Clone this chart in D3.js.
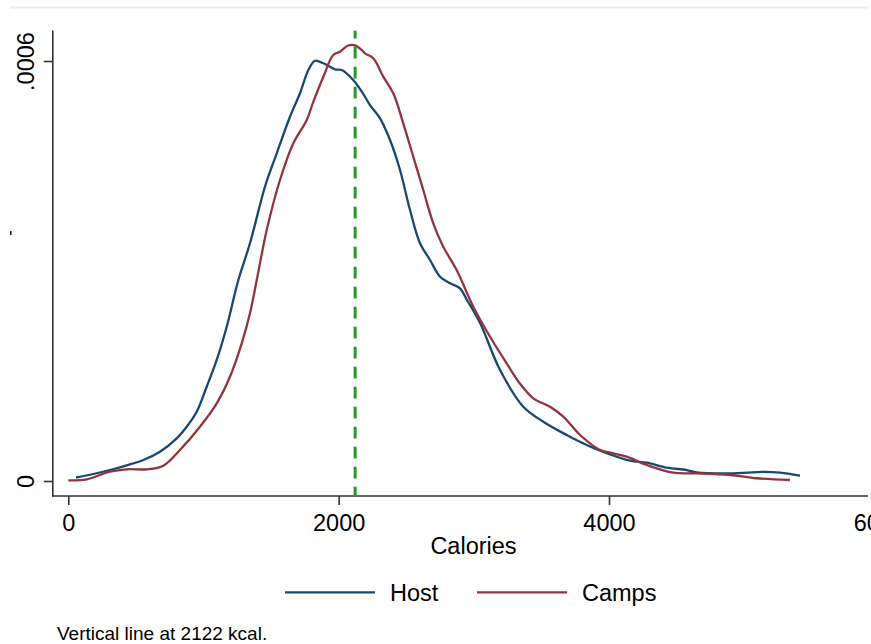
<!DOCTYPE html>
<html><head><meta charset="utf-8">
<script src="https://cdn.jsdelivr.net/npm/d3@7"></script>
<style>
html,body{margin:0;padding:0;background:#fff;}
svg{display:block;font-family:"Liberation Sans",Arial,sans-serif;}
</style></head>
<body>
<svg id="chart" width="871" height="644"></svg>
<script>
// ---- data ----
const hostX = [57,185,308,432,555,678,802,876,950,1024,1098,1172,1258,1344,1455,1542,1640,1714,1776,1825,1887,1973,2023,2108,2171,2232,2306,2380,2454,2528,2602,2676,2750,2824,2898,2949,3047,3194,3366,3514,3687,3835,3983,4155,4279,4427,4575,4649,4895,5142,5265,5413];
const hostY = [0.050,0.100,0.157,0.224,0.300,0.419,0.610,0.776,0.990,1.347,1.729,2.204,2.871,3.396,4.204,4.681,5.204,5.539,5.871,6.004,5.967,5.881,5.871,5.729,5.561,5.371,5.181,4.871,4.443,3.871,3.396,3.157,2.919,2.824,2.753,2.586,2.253,1.586,1.061,0.847,0.657,0.514,0.396,0.290,0.261,0.190,0.157,0.124,0.110,0.129,0.119,0.076].map(v => v * 1e-4);
const campsX = [0,136,308,432,580,703,826,974,1098,1196,1283,1344,1394,1468,1566,1665,1764,1813,1887,1960,2010,2071,2121,2171,2195,2256,2330,2404,2478,2552,2626,2700,2774,2873,2996,3120,3243,3342,3440,3564,3662,3786,3934,4032,4131,4279,4476,4649,4895,5093,5339];
const campsY = [0.010,0.024,0.133,0.167,0.167,0.219,0.443,0.776,1.110,1.490,1.967,2.396,2.871,3.586,4.300,4.824,5.157,5.419,5.776,6.086,6.133,6.221,6.224,6.157,6.110,6.039,5.776,5.539,5.110,4.633,4.157,3.681,3.347,3.014,2.490,2.061,1.681,1.390,1.181,1.061,0.919,0.657,0.443,0.396,0.347,0.229,0.119,0.110,0.086,0.039,0.014].map(v => v * 1e-4);
const xTicks = [0, 2000, 4000, 6000];
const yTicks = [0, 0.0006];
const yTickLabels = ["0", ".0006"];
const seriesNames = ["Host", "Camps"];
const seriesColors = ["#1a476f", "#90353b"];
const refLine = 2122;
const xTitle = "Calories";
const note = "Vertical line at 2122 kcal.";

// ---- chart ----
const svg = d3.select("#chart");
const x = d3.scaleLinear().domain([0, 4000]).range([68.3, 609]);
const y = d3.scaleLinear().domain([0, 0.0006]).range([481, 61]);
const font = 23.5;

// faint top rule
svg.append("line").attr("x1", 10).attr("x2", 868).attr("y1", 7.5).attr("y2", 7.5)
  .attr("stroke", "#e6edf3").attr("stroke-width", 2);

// tiny y-title remnant
svg.append("rect").attr("x", 10).attr("y", 231).attr("width", 1.6).attr("height", 4).attr("fill", "#222");

// axes lines
svg.append("line").attr("x1", 52.8).attr("x2", 52.8).attr("y1", 30.5).attr("y2", 496.5)
  .attr("stroke", "#333").attr("stroke-width", 1.6);
svg.append("line").attr("x1", 52).attr("x2", 868).attr("y1", 496).attr("y2", 496)
  .attr("stroke", "#333").attr("stroke-width", 1.6);

// y axis ticks
const yAxis = d3.axisLeft(y).tickValues(yTicks).tickSize(9).tickFormat((d, i) => yTickLabels[i]);
const gy = svg.append("g").attr("transform", "translate(52.8,0)").call(yAxis);
gy.select(".domain").remove();
gy.selectAll(".tick line").attr("stroke", "#333").attr("stroke-width", 1.6);
gy.selectAll(".tick text")
  .attr("x", null).attr("dy", null)
  .attr("transform", "translate(-19.3,0) rotate(-90)")
  .attr("text-anchor", "middle")
  .attr("font-size", font).attr("fill", "#000")
  .attr("font-family", "Liberation Sans, Arial, sans-serif");

// x axis ticks
const xAxis = d3.axisBottom(x).tickValues(xTicks).tickSize(9).tickFormat(d3.format("d"));
const gx = svg.append("g").attr("transform", "translate(0,496)").call(xAxis);
gx.select(".domain").remove();
gx.selectAll(".tick line").attr("stroke", "#333").attr("stroke-width", 1.6);
gx.selectAll(".tick text")
  .attr("y", 34.5).attr("dy", null)
  .attr("font-size", font).attr("fill", "#000")
  .attr("font-family", "Liberation Sans, Arial, sans-serif");

// curves
const line = d3.line().x(d => x(d[0])).y(d => y(d[1])).curve(d3.curveCatmullRom.alpha(0.5));
const host = hostX.map((v, i) => [v, hostY[i]]);
const camps = campsX.map((v, i) => [v, campsY[i]]);
[host, camps].forEach((s, i) => {
  svg.append("path").datum(s).attr("d", line)
    .attr("fill", "none").attr("stroke", seriesColors[i])
    .attr("stroke-width", 2.3).attr("stroke-linejoin", "round");
});

// reference line
svg.append("line").attr("x1", x(refLine)).attr("x2", x(refLine))
  .attr("y1", 30.7).attr("y2", 495)
  .attr("stroke", "#249a24").attr("stroke-width", 3)
  .attr("stroke-dasharray", "11.7,8.3").attr("stroke-dashoffset", 4);

// x title
svg.append("text").attr("x", 473.5).attr("y", 554).attr("text-anchor", "middle")
  .attr("font-size", font).attr("fill", "#000").text(xTitle);

// legend
const legX = [285, 477];
seriesNames.forEach((n, i) => {
  svg.append("line").attr("x1", legX[i]).attr("x2", legX[i] + 90)
    .attr("y1", 592.3).attr("y2", 592.3)
    .attr("stroke", seriesColors[i]).attr("stroke-width", 2.3);
  svg.append("text").attr("x", legX[i] + 105).attr("y", 601.3)
    .attr("font-size", font).attr("fill", "#000").text(n);
});

// note
svg.append("text").attr("x", 57).attr("y", 640).attr("font-size", 19).attr("fill", "#000").text(note);
</script>
</body></html>
